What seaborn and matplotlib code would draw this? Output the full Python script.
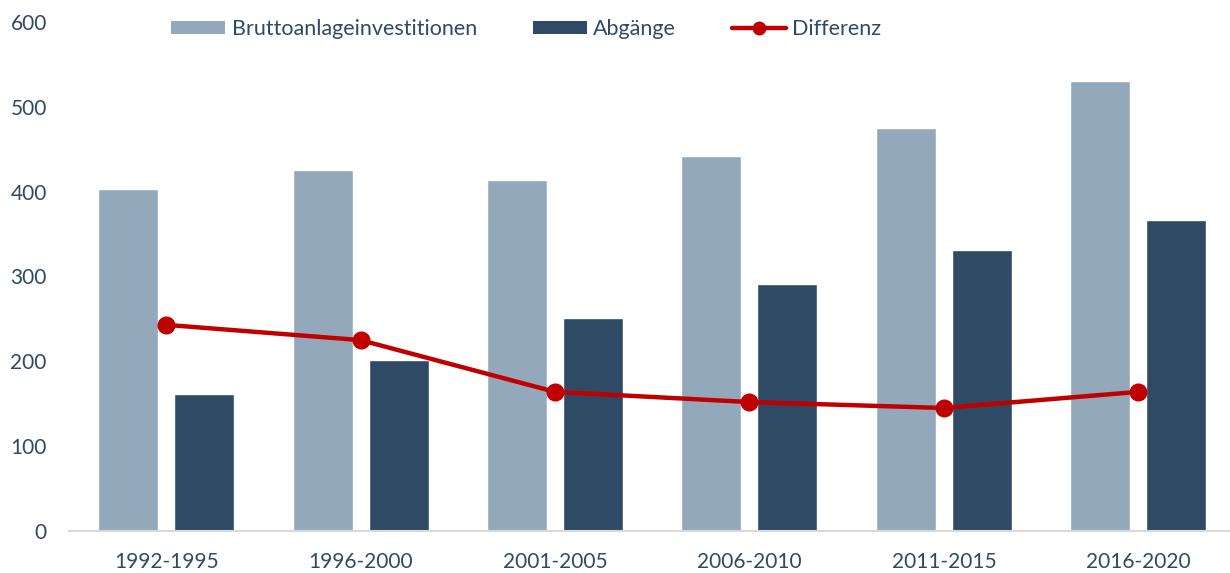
import matplotlib
matplotlib.use("Agg")
import matplotlib.pyplot as plt
import seaborn as sns
import pandas as pd
from matplotlib.patches import Patch
from matplotlib.lines import Line2D

categories = ["1992-1995", "1996-2000", "2001-2005", "2006-2010", "2011-2015", "2016-2020"]
brutto = [403, 426, 414, 442, 475, 530]
abgaenge = [161, 202, 251, 291, 331, 367]
differenz = [243, 225, 164, 152, 145, 164]
yticks = [0, 100, 200, 300, 400, 500, 600]

c_light = "#94A8BC"
c_dark = "#2E4A64"
c_red = "#C00000"
c_text = "#2E4A66"

sns.set_theme(style="white")
plt.rcParams["font.family"] = ["Lato", "DejaVu Sans"]

df = pd.DataFrame({
    "Periode": categories * 2,
    "Wert": brutto + abgaenge,
    "Serie": ["Bruttoanlageinvestitionen"] * len(categories) + ["Abgänge"] * len(categories),
})

fig = plt.figure(figsize=(12.3, 5.73), dpi=100)
ax = fig.add_axes([69 / 1230, 1 - 531 / 573, 1 - 69 / 1230, (531 - 22) / 573])

sns.barplot(data=df, x="Periode", y="Wert", hue="Serie", order=categories,
            palette=[c_light, c_dark], width=0.782, gap=0.21, ax=ax,
            legend=False, saturation=1)
ax.plot(range(len(categories)), differenz, color=c_red, lw=3.2, marker="o",
        markersize=12, zorder=5, solid_capstyle="round")

ax.set_ylim(0, 600)
ax.set_xlim(-0.5, 5.472)
ax.set_yticks(yticks)
ax.set_xlabel("")
ax.set_ylabel("")
for s in ["top", "right", "left"]:
    ax.spines[s].set_visible(False)
ax.spines["bottom"].set_color("#D9D9D9")
ax.spines["bottom"].set_linewidth(1.5)
ax.tick_params(axis="y", length=0, pad=16, labelsize=15, labelcolor=c_text)
ax.tick_params(axis="x", length=0, pad=15, labelsize=15, labelcolor=c_text)
ax.grid(False)

handles = [
    Patch(facecolor=c_light, edgecolor="none", label="Bruttoanlageinvestitionen"),
    Patch(facecolor=c_dark, edgecolor="none", label="Abgänge"),
    Line2D([0], [0], color=c_red, lw=3.2, marker="o", markersize=9, label="Differenz"),
]
leg = fig.legend(handles=handles, loc="center", bbox_to_anchor=(0.428, 0.949), ncol=3,
                 frameon=False, fontsize=15.5, handlelength=2.5, handleheight=0.6,
                 handletextpad=0.3, columnspacing=2.6, labelcolor=c_text)

fig.savefig("out.png", dpi=100)
